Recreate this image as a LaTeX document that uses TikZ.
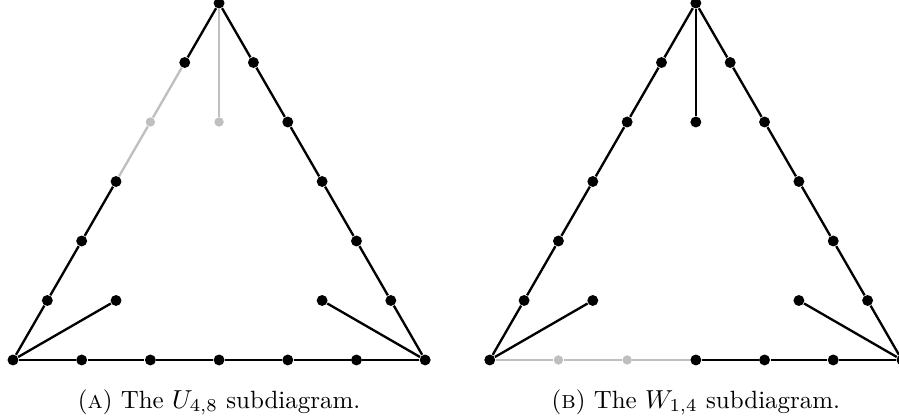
\documentclass[tikz,border=0pt]{standalone}
\usetikzlibrary{calc}
\definecolor{faded}{gray}{0.75}
\tikzset{
  dot/.style={circle, fill=black, inner sep=0pt, minimum size=4.2pt},
  fadeddot/.style={circle, fill=faded, inner sep=0pt, minimum size=3.6pt},
  edge/.style={line width=0.9pt, draw=black},
  fadededge/.style={line width=0.9pt, draw=faded},
  subcap/.style={anchor=base, inner sep=0pt, font=\fontsize{9.6}{11}\selectfont}
}

\begin{document}
\begin{tikzpicture}[x=0.929cm, y=0.929cm]
  \useasboundingbox (-0.189,-0.859) rectangle (12.897,5.24);

  % (a) the U_{4,8} subdiagram
  \begin{scope}
    \foreach \k in {0,...,6} \node[dot] (A-b\k) at (\k,0) {};
    \foreach \k in {1,2,3,5} \node[dot] (A-l\k) at (\k/2,\k*0.866) {};
    \node[fadeddot] (A-l4) at (2,4*0.866) {};
    \foreach \k in {1,...,5} \node[dot] (A-r\k) at (6-\k/2,\k*0.866) {};
    \node[dot] (A-top) at (3,6*0.866) {};
    \node[dot] (A-in1) at (1.5,0.866) {};
    \node[dot] (A-in2) at (4.5,0.866) {};
    \node[fadeddot] (A-in3) at (3,4*0.866) {};

    \draw[edge] (A-b0) -- (A-b1) -- (A-b2) -- (A-b3) -- (A-b4) -- (A-b5) -- (A-b6);
    \draw[edge] (A-b0) -- (A-l1) -- (A-l2) -- (A-l3);
    \draw[fadededge] (A-l3) -- (A-l4) -- (A-l5);
    \draw[edge] (A-l5) -- (A-top);
    \draw[edge] (A-b6) -- (A-r1) -- (A-r2) -- (A-r3) -- (A-r4) -- (A-r5) -- (A-top);
    \draw[edge] (A-b0) -- (A-in1);
    \draw[edge] (A-b6) -- (A-in2);
    \draw[fadededge] (A-top) -- (A-in3);

    \node[subcap] (capA) at (3,-0.70) {(\textsc{a}) The $U_{4,8}$ subdiagram.};
  \end{scope}

  % (b) the W_{1,4} subdiagram
  \begin{scope}[shift={(6.94,0)}]
    \foreach \k in {0,3,4,5,6} \node[dot] (B-b\k) at (\k,0) {};
    \foreach \k in {1,2} \node[fadeddot] (B-b\k) at (\k,0) {};
    \foreach \k in {1,...,5} \node[dot] (B-l\k) at (\k/2,\k*0.866) {};
    \foreach \k in {1,...,5} \node[dot] (B-r\k) at (6-\k/2,\k*0.866) {};
    \node[dot] (B-top) at (3,6*0.866) {};
    \node[dot] (B-in1) at (1.5,0.866) {};
    \node[dot] (B-in2) at (4.5,0.866) {};
    \node[dot] (B-in3) at (3,4*0.866) {};

    \draw[fadededge] (B-b0) -- (B-b1) -- (B-b2) -- (B-b3);
    \draw[edge] (B-b3) -- (B-b4) -- (B-b5) -- (B-b6);
    \draw[edge] (B-b0) -- (B-l1) -- (B-l2) -- (B-l3) -- (B-l4) -- (B-l5) -- (B-top);
    \draw[edge] (B-b6) -- (B-r1) -- (B-r2) -- (B-r3) -- (B-r4) -- (B-r5) -- (B-top);
    \draw[edge] (B-b0) -- (B-in1);
    \draw[edge] (B-b6) -- (B-in2);
    \draw[edge] (B-top) -- (B-in3);

    \node[subcap] (capB) at (3,-0.70) {(\textsc{b}) The $W_{1,4}$ subdiagram.};
  \end{scope}
\end{tikzpicture}
\end{document}
